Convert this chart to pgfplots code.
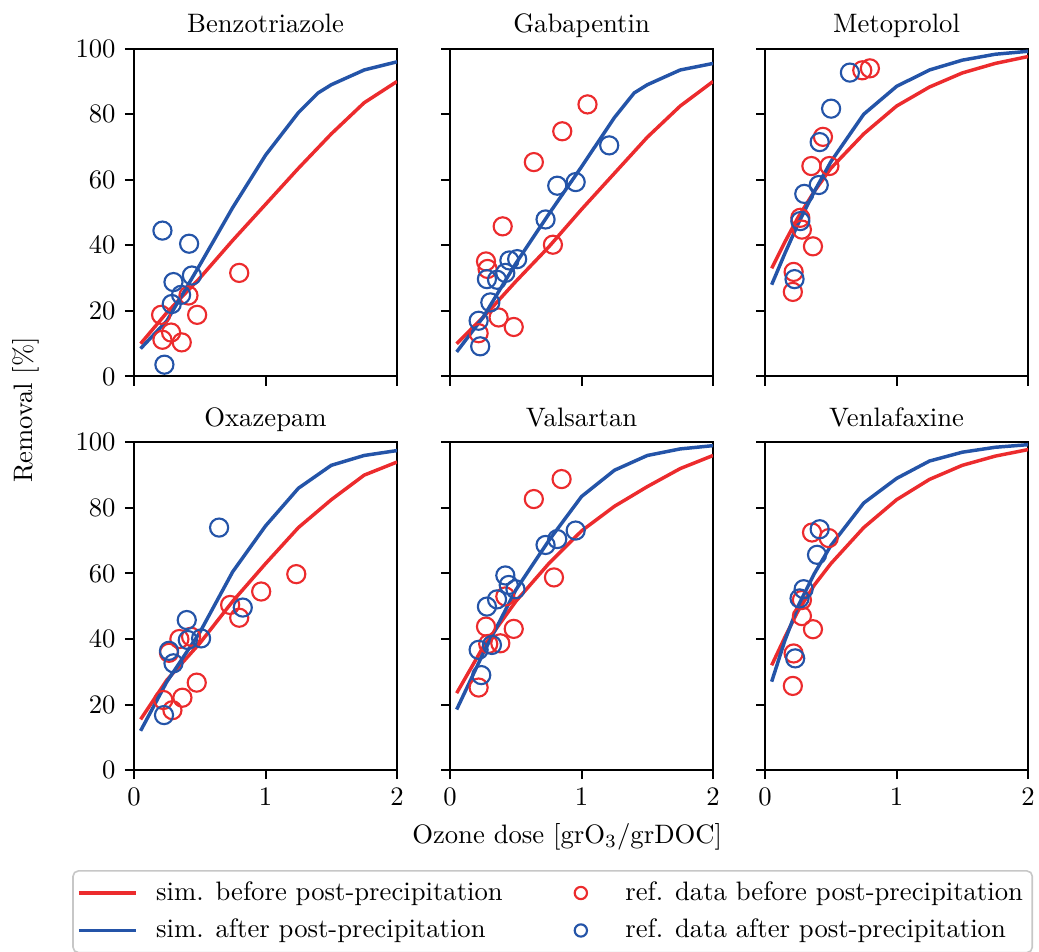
\documentclass[border=0pt]{standalone}
\usepackage{pgfplots}
\pgfplotsset{compat=1.18}
\definecolor{cRed}{RGB}{236,43,45}
\definecolor{cBlue}{RGB}{36,84,168}
\pgfplotsset{
  panel/.style={scale only axis, width=98.6pt, height=122.9pt,
    xmin=0, xmax=2, ymin=0, ymax=100,
    xtick={0,1,2}, ytick={0,20,40,60,80,100},
    tick align=outside, xtick pos=bottom, ytick pos=left,
    major tick length=3.4pt,
    axis line style={line width=0.75pt},
    every tick/.style={line width=0.75pt, black},
    title style={anchor=base},
    anchor=south west},
  simred/.style={line width=1.3pt, color=cRed, no marks},
  simblue/.style={line width=1.3pt, color=cBlue, no marks},
  refred/.style={only marks, mark=o, mark size=3.4pt, color=cRed, mark options={line width=0.8pt}},
  refblue/.style={only marks, mark=o, mark size=3.4pt, color=cBlue, mark options={line width=0.8pt}},
  linelegend/.style={legend image code/.code={\draw[##1] (0pt,0pt) -- (21.4pt,0pt);}},
  marklegend/.style={legend image code/.code={\path[draw=none, fill=none] (0pt,0pt) -- (15pt,0pt);\draw[##1, mark size=2.3pt] plot coordinates {(5.3pt,0pt)};}},
}
\begin{document}
\begin{tikzpicture}
\path[use as bounding box] (-50.25pt,-67.9pt) rectangle (339.3pt,288.75pt);
% ---------------- Benzotriazole
\begin{axis}[panel, at={(0pt,147.6pt)}, title={Benzotriazole}, xticklabels={}]
\addplot[simred] coordinates {(0.05,10) (0.25,19.5) (0.5,30) (0.75,41.5) (1.0,52.5) (1.25,63.5) (1.5,74) (1.75,83.5) (2.0,90)};
\addplot[simblue] coordinates {(0.05,8.5) (0.25,17) (0.5,34) (0.75,51.5) (1.0,67.5) (1.25,80.5) (1.4,86.5) (1.5,89) (1.75,93.5) (2.0,96)};
\addplot[refred] coordinates {(0.206,18.8) (0.216,11.2) (0.282,13.4) (0.363,10.4) (0.414,24.7) (0.48,18.8) (0.80,31.6)};
\addplot[refblue] coordinates {(0.216,44.5) (0.419,40.5) (0.30,28.8) (0.44,30.8) (0.358,24.9) (0.287,22.1) (0.231,3.6)};
\end{axis}
% ---------------- Gabapentin
\begin{axis}[panel, at={(118.5pt,147.6pt)}, title={Gabapentin}, xticklabels={}, yticklabels={}]
\addplot[simred] coordinates {(0.05,10) (0.25,18) (0.5,29) (0.75,39.5) (1.0,51) (1.25,62) (1.5,73) (1.75,82.5) (2.0,90)};
\addplot[simblue] coordinates {(0.05,7.5) (0.25,18) (0.5,34.5) (0.75,49.5) (1.0,64) (1.25,79) (1.4,86.5) (1.5,89) (1.75,93.5) (2.0,95.5)};
\addplot[refred] coordinates {(1.045,83.0) (0.853,74.8) (0.637,65.4) (0.40,45.8) (0.782,40.2) (0.273,35.1) (0.285,32.8) (0.369,18.0) (0.484,15.1) (0.217,13.2)};
\addplot[refblue] coordinates {(1.21,70.5) (0.955,59.3) (0.815,58.2) (0.726,47.9) (0.451,35.4) (0.51,35.8) (0.42,31.6) (0.357,29.5) (0.28,29.7) (0.306,22.6) (0.217,17.0) (0.229,9.2)};
\end{axis}
% ---------------- Metoprolol
\begin{axis}[panel, at={(236.6pt,147.6pt)}, title={Metoprolol}, xticklabels={}, yticklabels={}]
\addplot[simred] coordinates {(0.05,33) (0.15,41) (0.25,48.5) (0.375,56.5) (0.5,63.5) (0.75,74) (1.0,82.5) (1.25,88.3) (1.5,92.6) (1.75,95.5) (2.0,97.6)};
\addplot[simblue] coordinates {(0.05,28) (0.15,37.5) (0.25,46.5) (0.375,56.5) (0.5,65.5) (0.75,80) (1.0,88.5) (1.25,93.5) (1.5,96.5) (1.75,98.3) (2.0,99.2)};
\addplot[refred] coordinates {(0.739,93.4) (0.797,94.0) (0.44,73.1) (0.352,64.2) (0.489,64.2) (0.268,48.4) (0.28,44.8) (0.364,39.7) (0.217,31.9) (0.211,25.8)};
\addplot[refblue] coordinates {(0.645,92.7) (0.502,81.7) (0.415,71.5) (0.408,58.4) (0.298,55.7) (0.268,47.4) (0.224,29.7)};
\end{axis}
% ---------------- Oxazepam
\begin{axis}[panel, at={(0pt,0pt)}, title={Oxazepam},
  legend columns=2, legend cell align=left,
  legend style={at={(axis description cs:-0.235,-0.305)}, anchor=north west,
    draw=black!22, line width=0.6pt, rounded corners=2pt, font=\normalsize,
    inner xsep=1.5pt, inner ysep=2pt, row sep=1.5pt,
    /tikz/every even column/.append style={column sep=22pt},
    /tikz/every odd column/.append style={column sep=5pt}},
  ]
\addplot[simred, forget plot] coordinates {(0.05,15.5) (0.25,27.5) (0.5,38.7) (0.75,51.5) (1.0,63) (1.25,74) (1.5,82.5) (1.75,90) (2.0,94)};
\addplot[simblue, forget plot] coordinates {(0.05,12) (0.25,27) (0.5,42) (0.75,60.5) (1.0,74.5) (1.25,86) (1.5,93) (1.75,96) (2.0,97.5)};
\addplot[refred, forget plot] coordinates {(1.234,59.8) (0.967,54.5) (0.731,50.4) (0.80,46.5) (0.345,40.0) (0.434,40.7) (0.266,35.8) (0.477,26.7) (0.368,22.1) (0.223,21.4) (0.292,18.3)};
\addplot[refblue, forget plot] coordinates {(0.647,74.0) (0.401,45.8) (0.827,49.6) (0.409,39.7) (0.51,40.2) (0.266,36.4) (0.30,32.6) (0.228,16.8)};
\addlegendimage{simred, linelegend}
\addlegendentry{sim. before post-precipitation}
\addlegendimage{refred, marklegend}
\addlegendentry{ref. data before post-precipitation}
\addlegendimage{simblue, linelegend}
\addlegendentry{sim. after post-precipitation}
\addlegendimage{refblue, marklegend}
\addlegendentry{ref. data after post-precipitation}
\end{axis}
% ---------------- Valsartan
\begin{axis}[panel, at={(118.5pt,0pt)}, title={Valsartan}, yticklabels={}]
\addplot[simred] coordinates {(0.05,23.5) (0.25,37.5) (0.5,51.5) (0.75,63) (1.0,73) (1.25,80.5) (1.5,86.5) (1.75,92) (2.0,96)};
\addplot[simblue] coordinates {(0.05,18.5) (0.25,35.5) (0.5,55) (0.75,70) (1.0,83.5) (1.25,91.5) (1.5,96) (1.75,98) (2.0,99)};
\addplot[refred] coordinates {(0.848,88.8) (0.637,82.7) (0.79,58.8) (0.273,43.8) (0.484,43.1) (0.382,38.7) (0.42,53) (0.217,25.2) (0.29,38.5)};
\addplot[refblue] coordinates {(0.955,73.1) (0.815,70.5) (0.726,68.7) (0.42,59.4) (0.446,56.5) (0.497,55.2) (0.357,52.1) (0.28,49.9) (0.318,38.2) (0.217,36.7) (0.237,29.0)};
\end{axis}
% ---------------- Venlafaxine
\begin{axis}[panel, at={(236.6pt,0pt)}, title={Venlafaxine}, yticklabels={}]
\addplot[simred] coordinates {(0.05,32) (0.15,40.5) (0.25,48.5) (0.375,56.5) (0.5,63) (0.75,74) (1.0,82.5) (1.25,88.7) (1.5,93) (1.75,95.8) (2.0,97.8)};
\addplot[simblue] coordinates {(0.05,27) (0.15,39.5) (0.25,50) (0.375,60) (0.5,68.5) (0.75,81.5) (1.0,89) (1.25,94.3) (1.5,97) (1.75,98.5) (2.0,99.3)};
\addplot[refred] coordinates {(0.357,72.5) (0.484,70.8) (0.28,51.9) (0.28,47.0) (0.364,43.0) (0.217,35.6) (0.211,25.7)};
\addplot[refblue] coordinates {(0.415,73.5) (0.395,65.7) (0.293,55.2) (0.262,52.4) (0.229,34.1)};
\end{axis}
% ---------------- shared labels
\node[rotate=90] at (-40.5pt,135pt) {Removal [\%]};
\node[anchor=base] at (162.4pt,-27.4pt) {Ozone dose [grO$_3$/grDOC]};
\end{tikzpicture}
\end{document}
